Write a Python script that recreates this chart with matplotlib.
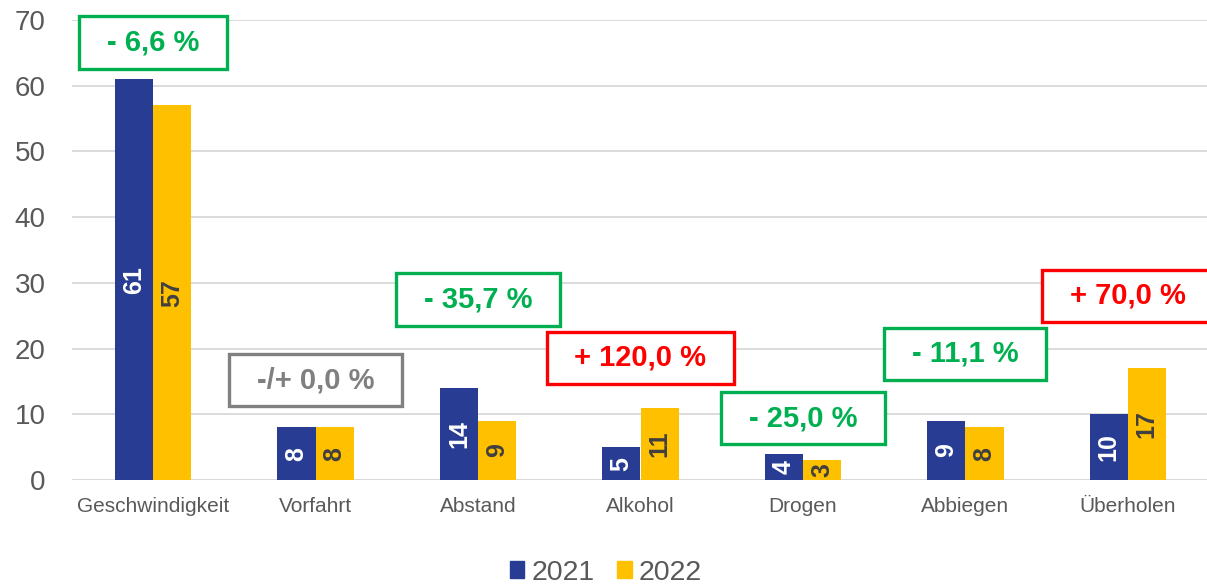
import matplotlib
matplotlib.use("Agg")
import matplotlib.pyplot as plt
from matplotlib.path import Path
from matplotlib.patches import Patch
import numpy as np

plt.rcParams['font.family'] = ['Liberation Sans', 'DejaVu Sans']

# DATA ----------------------------------------------------------------
categories = ["Geschwindigkeit", "Vorfahrt", "Abstand", "Alkohol",
              "Drogen", "Abbiegen", "Überholen"]
years = ["2021", "2022"]
values_2021 = [61, 8, 14, 5, 4, 9, 10]
values_2022 = [57, 8, 9, 11, 3, 8, 17]

# where the change boxes sit (y, data units)
box_y = [66.6, 15.2, 27.5, 18.6, 9.4, 19.2, 28.0]

blue = "#273C92"
yellow = "#FFC000"
green = "#00B050"
red = "#FF0000"
grey = "#808080"


def wide_box(x0, y0, width, height, mutation_size):
    # rectangle with more room left/right than top/bottom
    px, py = 0.95 * mutation_size, 0.42 * mutation_size
    x0, y0 = x0 - px, y0 - py
    x1, y1 = x0 + width + 2 * px, y0 + height + 2 * py
    return Path([(x0, y0), (x1, y0), (x1, y1), (x0, y1), (x0, y0)], closed=True)


def change_text(a, b):
    pct = (b - a) / a * 100
    s = f"{abs(pct):.1f}".replace(".", ",")
    if round(pct, 1) == 0:
        return "-/+ " + s + " %", grey
    if pct > 0:
        return "+ " + s + " %", red
    return "- " + s + " %", green


fig = plt.figure(figsize=(12.07, 5.85), dpi=100)
ax = fig.add_axes([72 / 1207, 105 / 585, 1137 / 1207, 460 / 585])

x = np.arange(len(categories))
w = 0.235
b1 = ax.bar(x - w / 2, values_2021, w, color=blue, zorder=2)
b2 = ax.bar(x + w / 2, values_2022, w, color=yellow, zorder=2)

ax.bar_label(b1, label_type="center", rotation=90, color="white",
             fontsize=18, fontweight="bold")
ax.bar_label(b2, label_type="center", rotation=90, color="#404040",
             fontsize=18, fontweight="bold")

for i in range(len(categories)):
    txt, col = change_text(values_2021[i], values_2022[i])
    ax.text(x[i], box_y[i], txt, ha="center", va="center", fontsize=21,
            fontweight="bold", color=col, clip_on=False, zorder=3,
            bbox=dict(boxstyle=wide_box, facecolor="white", edgecolor=col,
                      linewidth=2.4))

ax.set_xlim(-0.5, len(categories) - 0.5)
ax.set_ylim(0, 70)
ax.set_yticks(range(0, 71, 10))
ax.set_xticks(x)
ax.set_xticklabels(categories)
ax.grid(axis="y", color="#D9D9D9", linewidth=1.3, zorder=0)
ax.tick_params(axis="y", length=0, pad=19, labelsize=20, labelcolor="#595959")
ax.tick_params(axis="x", length=0, pad=12, labelsize=15, labelcolor="#595959")
for sp in ax.spines.values():
    sp.set_visible(False)
ax.axhline(0, color="#D9D9D9", linewidth=1.3, zorder=1)

handles = [Patch(color=blue), Patch(color=yellow)]
fig.legend(handles, years, loc="lower center", bbox_to_anchor=(0.502, -0.045),
           ncol=2, frameon=False, fontsize=20.5, labelcolor="#595959",
           handlelength=0.5, handleheight=0.5, handletextpad=0.25,
           columnspacing=0.8)

fig.savefig("out.png", dpi=100)
